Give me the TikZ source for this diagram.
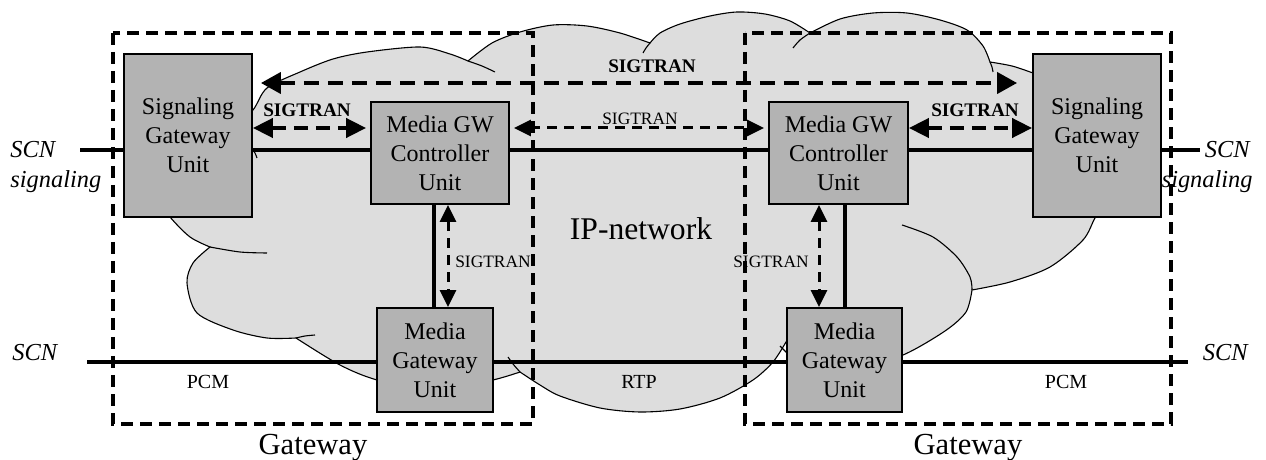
\documentclass[tikz,border=0pt]{standalone}
\usepackage{fontspec}
\setmainfont{Liberation Serif}
\usetikzlibrary{arrows.meta}
\definecolor{cloudgray}{RGB}{221,221,221}
\definecolor{boxgray}{RGB}{179,179,179}
\begin{document}
\begin{tikzpicture}[x=0.5pt,y=-0.5pt,
  box/.style={draw, line width=0.9pt, fill=boxgray, align=center, inner sep=0pt,
    font=\fontsize{12}{14.5}\selectfont},
  wire/.style={line width=2.1pt},
  cloudline/.style={line width=0.55pt},
  gwbox/.style={line width=1.6pt, dash pattern=on 6pt off 3.5pt},
  bigarrow/.style={line width=2pt, dash pattern=on 7.5pt off 4.5pt,
    {Triangle[length=10pt,width=10.5pt]}-{Triangle[length=10pt,width=10.5pt]}},
  boldarrow/.style={line width=2pt, dash pattern=on 7pt off 4pt,
    {Triangle[length=10pt,width=9.5pt]}-{Triangle[length=10pt,width=9.5pt]}},
  thinarrow/.style={line width=1.5pt, dash pattern=on 5pt off 3.5pt,
    {Triangle[length=8.5pt,width=8pt]}-{Triangle[length=8.5pt,width=8pt]}},
  lbl/.style={inner sep=0pt, anchor=base},
  sigsmall/.style={lbl, font=\fontsize{8.7}{10}\selectfont},
  sigbold/.style={lbl, font=\fontsize{9.6}{11}\selectfont\bfseries},
  pcm/.style={lbl, font=\fontsize{10}{12}\selectfont},
  scn/.style={inner sep=0pt, font=\fontsize{12.2}{14}\selectfont\itshape},
  gwlabel/.style={lbl, font=\fontsize{15.3}{18}\selectfont}
]
\useasboundingbox (0,0) rectangle (1266,460);

% ---------- cloud ----------
\path[cloudline, draw, fill=cloudgray]
  plot[smooth] coordinates {(232,130) (253,110) (267,88) (300,72) (333,59) (367,52) (420,47) (450,54) (468,61)}
  -- plot[smooth] coordinates {(468,61) (492,43) (520,32) (553,25) (587,26) (620,33) (650,43)}
  -- plot[smooth] coordinates {(650,43) (660,33) (680,24) (710,16) (737,12) (765,14) (790,21) (810,33)}
  -- plot[smooth] coordinates {(810,33) (840,19) (873,13) (907,13) (940,20) (967,30) (983,46) (990,62)}
  -- plot[smooth] coordinates {(990,62) (1012,66) (1033,73) (1080,90) (1115,125) (1120,170) (1105,205) (1095,218) (1083,240) (1050,267) (1010,282) (972,290)}
  -- plot[smooth] coordinates {(972,290) (966,312) (945,331) (903,355) (860,366) (810,356) (786,342)}
  -- plot[smooth] coordinates {(786,342) (773,362) (753,380) (720,398) (680,409) (640,412) (600,408) (560,396) (540,385) (520,372)}
  -- plot[smooth] coordinates {(520,372) (493,380) (435,392) (377,380) (340,365) (296,338)}
  -- plot[smooth] coordinates {(296,338) (267,338) (233,330) (197,313) (187,283) (193,263) (210,247)}
  -- plot[smooth] coordinates {(210,247) (190,237) (170,217) (150,190) (150,150) (190,125) (232,130)}
  -- cycle;
% inner arcs of the cloud
\draw[cloudline] plot[smooth] coordinates {(468,61) (482,66) (495,72)};
\draw[cloudline] plot[smooth] coordinates {(650,43) (646,48) (643,53)};
\draw[cloudline] plot[smooth] coordinates {(810,33) (800,40) (793,48)};
\draw[cloudline] plot[smooth] coordinates {(990,62) (992,67) (993,72)};
\draw[cloudline] plot[smooth] coordinates {(902,225) (933,237) (957,257) (970,277) (972,290)};
\draw[cloudline] plot[smooth] coordinates {(520,372) (513,364) (508,357)};
\draw[cloudline] plot[smooth] coordinates {(296,338) (305,336) (315,335)};
\draw[cloudline] plot[smooth] coordinates {(210,247) (240,252) (267,253)};
\draw[cloudline] plot[smooth] coordinates {(780,346) (784,350) (787,353)};
\draw[cloudline] plot[smooth] coordinates {(252,149) (255,153) (257,158)};

% ---------- gateway boxes ----------
\draw[gwbox] (113,33) rectangle (533,424);
\draw[gwbox] (745,33) rectangle (1171,424);

% ---------- helper coordinates ----------
\coordinate (sigy) at (0,150);
\coordinate (scny) at (0,362);
\coordinate (topy) at (0,83);
\coordinate (sy) at (0,128);
\coordinate (vl) at (434,0);
\coordinate (va) at (448,0);
\coordinate (vr) at (845,0);
\coordinate (vb) at (819,0);
\coordinate (sigLend) at (80,150);
\coordinate (sigRend) at (1200,150);
\coordinate (scnLend) at (87,362);
\coordinate (scnRend) at (1188,362);

% ---------- units ----------
\node[box, minimum width=64pt, minimum height=81.5pt] (sgL) at (188,135.5) {Signaling\\Gateway\\Unit};
\node[box, minimum width=64pt, minimum height=81.5pt] (sgR) at (1097,135.5) {Signaling\\Gateway\\Unit};
\node[box, minimum width=69pt, minimum height=51pt] (mcL) at (440,153) {Media GW\\Controller\\Unit};
\node[box, minimum width=69.5pt, minimum height=51pt] (mcR) at (838.5,153) {Media GW\\Controller\\Unit};
\node[box, minimum width=58pt, minimum height=52pt] (mgL) at (435,360) {Media\\Gateway\\Unit};
\node[box, minimum width=57.5pt, minimum height=52pt] (mgR) at (844.5,360) {Media\\Gateway\\Unit};

% ---------- solid lines ----------
\draw[wire] (sigLend) -- (sgL.west |- sigy);
\draw[wire] (sgL.east |- sigy) -- (mcL.west |- sigy);
\draw[wire] (mcL.east |- sigy) -- (mcR.west |- sigy);
\draw[wire] (mcR.east |- sigy) -- (sgR.west |- sigy);
\draw[wire] (sgR.east |- sigy) -- (sigRend);
\draw[wire] (scnLend) -- (mgL.west |- scny);
\draw[wire] (mgL.east |- scny) -- (mgR.west |- scny);
\draw[wire] (mgR.east |- scny) -- (scnRend);
\draw[wire] (mcL.south -| vl) -- (mgL.north -| vl);
\draw[wire] (mcR.south -| vr) -- (mgR.north -| vr);

% ---------- SIGTRAN arrows ----------
\draw[bigarrow, shorten <=4pt, shorten >=7.5pt] (sgL.east |- topy) -- (sgR.west |- topy);
\draw[boldarrow, shorten >=2pt] (sgL.east |- sy) -- (mcL.west |- sy);
\draw[boldarrow] (mcR.east |- sy) -- (sgR.west |- sy);
\draw[thinarrow, shorten <=2pt, shorten >=2pt] (mcL.east |- sy) -- (mcR.west |- sy);
\draw[thinarrow] (mcL.south -| va) -- (mgL.north -| va);
\draw[thinarrow] (mcR.south -| vb) -- (mgR.north -| vb);

% ---------- labels ----------
\node[sigbold] (ltop) at (652,73) {SIGTRAN};
\node[sigbold] (lleft) at (307,117) {SIGTRAN};
\node[sigbold] (lright) at (975,117) {SIGTRAN};
\node[sigsmall] (lmid) at (640,125) {SIGTRAN};
\node[sigsmall] (lvl) at (493,268) {SIGTRAN};
\node[sigsmall] (lvr) at (771,268) {SIGTRAN};
\node[lbl, font=\fontsize{15.8}{19}\selectfont] (ip) at (641,240) {IP-network};
\node[pcm] (pcmL) at (208,388) {PCM};
\node[pcm] (rtp) at (639,388) {RTP};
\node[pcm] (pcmR) at (1066,388) {PCM};
\node[gwlabel] (gwL) at (313,454) {Gateway};
\node[gwlabel] (gwR) at (968,454) {Gateway};
\node[scn, anchor=base west] (scn1) at (10,158) {SCN};
\node[scn, anchor=base west] (scn1b) at (10,188) {signaling};
\node[scn, anchor=base east] (scn2) at (1250,158) {SCN};
\node[scn, anchor=base east] (scn2b) at (1253,188) {signaling};
\node[scn, anchor=base west] (scn3) at (12,360) {SCN};
\node[scn, anchor=base east] (scn4) at (1248,360) {SCN};
\end{tikzpicture}
\end{document}
